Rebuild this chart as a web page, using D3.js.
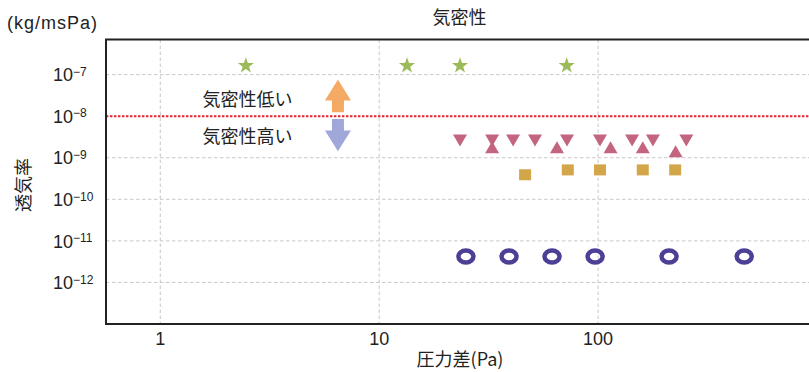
<!DOCTYPE html>
<html>
<head>
<meta charset="utf-8">
<script src="https://cdn.jsdelivr.net/npm/d3@7"></script>
<style>
  html, body { margin: 0; padding: 0; background: #fff; }
  svg { display: block; }
</style>
</head>
<body>
<svg id="chart" width="809" height="372"></svg>
<script>
// Air permeability vs. pressure difference (log-log)
const xTickValues = [1, 10, 100];
const xTickLabels = ["1", "10", "100"];
const yTickExponents = [-7, -8, -9, -10, -11, -12];
const thresholdValue = 1e-8;

// Series: star
const starPressure = [2.46, 13.4, 23.4, 71.9];
const starPerm     = [1.74e-7, 1.74e-7, 1.74e-7, 1.74e-7];
// Series: inverted triangle
const invTriPressure = [23.4, 32.8, 40.9, 51.5, 72.1, 102, 143, 178, 253];
const invTriPerm     = [2.6e-9, 2.6e-9, 2.6e-9, 2.6e-9, 2.6e-9, 2.6e-9, 2.6e-9, 2.6e-9, 2.6e-9];
// Series: triangle
const triPressure = [32.8, 64.9, 114, 160, 226];
const triPerm     = [1.79e-9, 1.79e-9, 1.79e-9, 1.79e-9, 1.44e-9];
// Series: square
const sqPressure = [46.4, 72.7, 102, 160, 225];
const sqPerm     = [3.9e-10, 5.1e-10, 5.1e-10, 5.1e-10, 5.1e-10];
// Series: ring
const ringPressure = [24.9, 39.2, 61.6, 96.9, 211, 465];
const ringPerm     = [4.2e-12, 4.2e-12, 4.2e-12, 4.2e-12, 4.2e-12, 4.2e-12];

(function () {
  const svg = d3.select("#chart");
  const pLeft = 106, pTop = 39.5, pBottom = 324, pRight = 817;

  const x = d3.scaleLog().domain([0.565, 1000]).range([pLeft, pRight]);
  const y = d3.scaleLog().domain([1e-13, 7e-7]).range([pBottom, pTop]);

  const latin = "'Liberation Sans', Arial, sans-serif";
  const cjk = "'Noto Sans CJK JP', 'Noto Sans CJK SC', sans-serif";

  // grid
  const grid = svg.append("g");
  grid.selectAll("line.h").data(yTickExponents.map(e => Math.pow(10, e)).filter(v => v !== thresholdValue))
    .join("line")
    .attr("x1", pLeft).attr("x2", 809)
    .attr("y1", d => y(d)).attr("y2", d => y(d))
    .attr("stroke", "#c8c8c8").attr("stroke-width", 1).attr("stroke-dasharray", "3.5,2.5");
  grid.selectAll("line.v").data(xTickValues)
    .join("line")
    .attr("x1", d => x(d)).attr("x2", d => x(d))
    .attr("y1", pTop).attr("y2", pBottom)
    .attr("stroke", "#c8c8c8").attr("stroke-width", 1).attr("stroke-dasharray", "3.5,2.5");

  // threshold line
  svg.append("line")
    .attr("x1", pLeft).attr("x2", 809)
    .attr("y1", y(thresholdValue)).attr("y2", y(thresholdValue))
    .attr("stroke", "#e3222b").attr("stroke-width", 2).attr("stroke-dasharray", "2.4,1.6");

  // frame
  svg.append("path")
    .attr("d", `M812,${pTop}H${pLeft}V${pBottom}H812`)
    .attr("fill", "none").attr("stroke", "#222").attr("stroke-width", 2);

  // y tick labels (10^n)
  const yl = svg.append("g").attr("font-family", latin).attr("fill", "#222");
  yTickExponents.forEach(e => {
    const t = yl.append("text").attr("x", 53).attr("y", y(Math.pow(10, e)) + 6.7).attr("font-size", 18).text("10");
    t.append("tspan").attr("font-size", 12).attr("dy", -5.5).text("\u2212" + Math.abs(e));
  });

  // x tick labels
  svg.append("g").selectAll("text").data(xTickValues).join("text")
    .attr("x", d => x(d)).attr("y", pBottom + 21)
    .attr("text-anchor", "middle").attr("font-family", latin).attr("font-size", 18).attr("fill", "#222")
    .text((d, i) => xTickLabels[i]);

  // titles
  svg.append("text").attr("x", 459.5).attr("y", 23.5).attr("text-anchor", "middle")
    .attr("font-family", cjk).attr("font-size", 18).attr("fill", "#222").text("気密性");
  svg.append("text").attr("x", 7).attr("y", 29).attr("font-family", latin).attr("font-size", 18)
    .attr("textLength", 90).attr("fill", "#222").text("(kg/msPa)");
  svg.append("text").attr("transform", "translate(22,185) rotate(-90)").attr("text-anchor", "middle")
    .attr("dominant-baseline", "central").attr("font-family", cjk).attr("font-size", 18).attr("fill", "#222").text("透気率");
  svg.append("text").attr("x", 460).attr("y", 365.5).attr("text-anchor", "middle")
    .attr("font-family", cjk).attr("font-size", 18).attr("fill", "#222").text("圧力差(Pa)");

  // annotation: arrows and labels around the threshold
  const y0 = y(thresholdValue), ax = x(6.48);
  svg.append("text").attr("x", x(1.56)).attr("y", y0 - 10).attr("font-family", cjk).attr("font-size", 18).attr("fill", "#222").text("気密性低い");
  svg.append("text").attr("x", x(1.56)).attr("y", y0 + 27).attr("font-family", cjk).attr("font-size", 18).attr("fill", "#222").text("気密性高い");
  svg.append("path")
    .attr("d", `M${ax},${y0 - 36.6}L${ax + 13},${y0 - 15.6}H${ax + 6}V${y0 - 4}H${ax - 6}V${y0 - 15.6}H${ax - 13}Z`)
    .attr("fill", "#f5aa63");
  svg.append("path")
    .attr("d", `M${ax - 6},${y0 + 2.7}H${ax + 6}V${y0 + 14.4}H${ax + 13}L${ax},${y0 + 35}L${ax - 13},${y0 + 14.4}H${ax - 6}Z`)
    .attr("fill", "#9fa8d8");

  // marker shapes
  function starPath(ro, ri) {
    let p = "";
    for (let i = 0; i < 10; i++) {
      const r = i % 2 === 0 ? ro : ri;
      const a = -Math.PI / 2 + i * Math.PI / 5;
      p += (i === 0 ? "M" : "L") + (r * Math.cos(a)).toFixed(2) + "," + (r * Math.sin(a)).toFixed(2);
    }
    return p + "Z";
  }
  const triDown = "M-7,-6H7L0,6Z";
  const triUp = "M0,-6L7,6H-7Z";

  const zip = (a, b) => a.map((v, i) => [v, b[i]]);

  svg.append("g").selectAll("path").data(zip(starPressure, starPerm)).join("path")
    .attr("transform", d => `translate(${x(d[0])},${y(d[1]) + 1})`)
    .attr("d", starPath(8.5, 3.4)).attr("fill", "#9bbb59");

  svg.append("g").selectAll("path").data(zip(triPressure, triPerm)).join("path")
    .attr("transform", d => `translate(${x(d[0])},${y(d[1])})`)
    .attr("d", triUp).attr("fill", "#c3657f");

  svg.append("g").selectAll("path").data(zip(invTriPressure, invTriPerm)).join("path")
    .attr("transform", d => `translate(${x(d[0])},${y(d[1])})`)
    .attr("d", triDown).attr("fill", "#c3657f");

  svg.append("g").selectAll("rect").data(zip(sqPressure, sqPerm)).join("rect")
    .attr("x", d => x(d[0]) - 6).attr("y", d => y(d[1]) - 5.5)
    .attr("width", 12).attr("height", 11).attr("fill", "#d4a64a");

  svg.append("g").selectAll("ellipse").data(zip(ringPressure, ringPerm)).join("ellipse")
    .attr("cx", d => x(d[0])).attr("cy", d => y(d[1]))
    .attr("rx", 7.5).attr("ry", 6)
    .attr("fill", "none").attr("stroke", "#4b3f96").attr("stroke-width", 4.5);
})();
</script>
</body>
</html>
